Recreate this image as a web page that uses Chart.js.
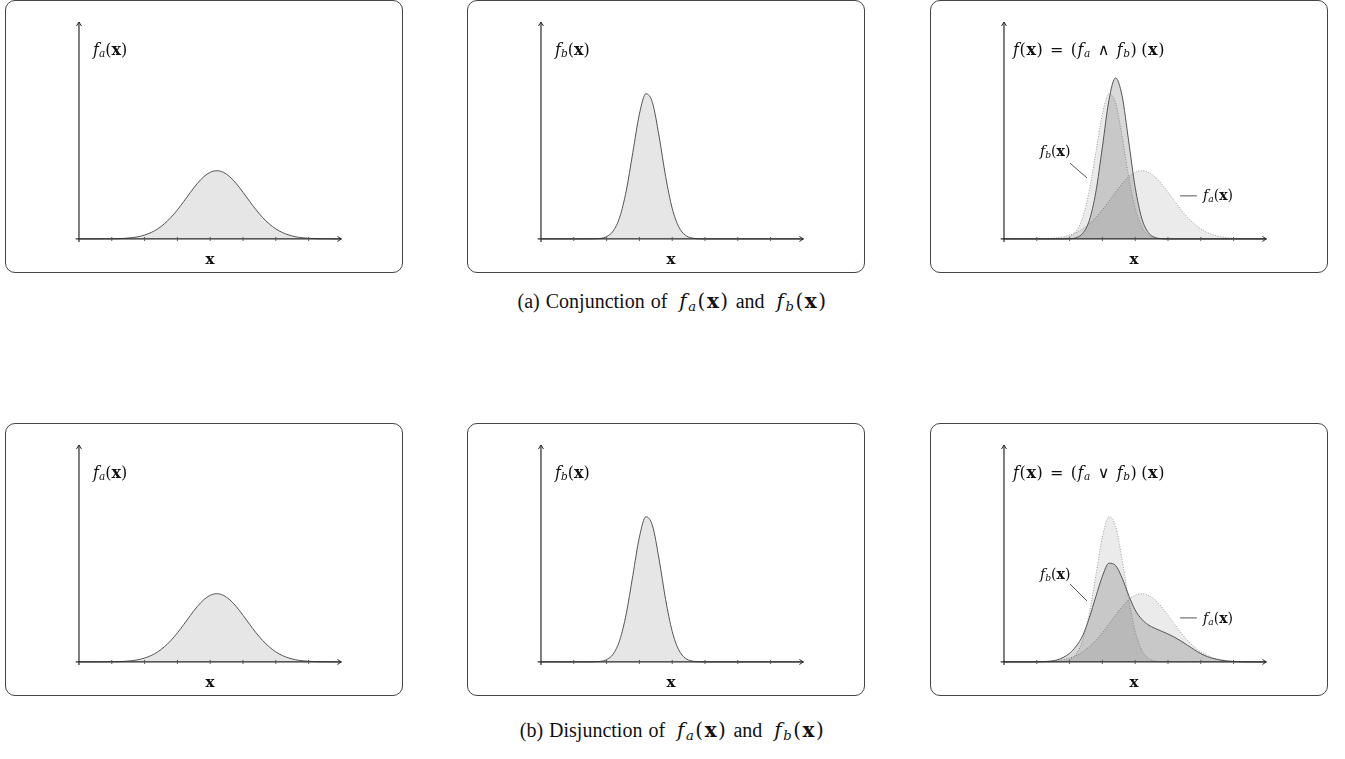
<!DOCTYPE html>
<html>
<head>
<meta charset="utf-8">
<script src="https://cdn.jsdelivr.net/npm/chart.js@4.4.0/dist/chart.umd.min.js"></script>
<style>
  body { margin: 0; width: 1345px; height: 759px; background: #fff; position: relative; overflow: hidden;
         font-family: "Liberation Serif", "DejaVu Serif", serif; color: #111; }
  .box { position: absolute; width: 398px; height: 273px; border: 1px solid #444; border-radius: 10px; box-sizing: border-box; }
  .box canvas { position: absolute; left: -1px; top: -1px; }
  .m { font-family: "DejaVu Serif", serif; }
  .lbl { position: absolute; font-size: 16px; line-height: 1; white-space: nowrap; }
  .lbl.small { font-size: 14px; }
  .wide { letter-spacing: 0.6px; word-spacing: 1px; }
  sub { font-size: 0.66em; vertical-align: -0.22em; line-height: 0; }
  .xl { position: absolute; width: 40px; text-align: center; font-weight: bold; font-size: 15px; line-height: 1; }
  .cap { position: absolute; left: 0; width: 1345px; text-align: center; font-size: 20px; line-height: 1; word-spacing: 1px; }
  .cap .m { font-size: 20px; letter-spacing: 1.5px; }
</style>
</head>
<body>

<div class="box" style="left:5px;top:0px"><canvas id="topA" width="398" height="273"></canvas></div>
<div class="box" style="left:467px;top:0px"><canvas id="topB" width="398" height="273"></canvas></div>
<div class="box" style="left:930px;top:0px"><canvas id="topAnd" width="398" height="273"></canvas></div>
<div class="box" style="left:5px;top:423px"><canvas id="botA" width="398" height="273"></canvas></div>
<div class="box" style="left:467px;top:423px"><canvas id="botB" width="398" height="273"></canvas></div>
<div class="box" style="left:930px;top:423px"><canvas id="botOr" width="398" height="273"></canvas></div>

<!-- row (a) -->
<div class="lbl m" style="left:93px;top:42px"><i>f</i><sub><i>a</i></sub>(<b>x</b>)</div>
<div class="lbl m" style="left:555px;top:42px"><i>f</i><sub><i>b</i></sub>(<b>x</b>)</div>
<div class="lbl m wide" style="left:1013px;top:42px"><i>f</i>(<b>x</b>) = (<i>f</i><sub><i>a</i></sub> ∧ <i>f</i><sub><i>b</i></sub>)&thinsp;(<b>x</b>)</div>
<div class="lbl m small" style="left:1040px;top:144px"><i>f</i><sub><i>b</i></sub>(<b>x</b>)</div>
<div class="lbl m small" style="left:1203px;top:188px"><i>f</i><sub><i>a</i></sub>(<b>x</b>)</div>
<div class="xl m" style="left:190px;top:252px">x</div>
<div class="xl m" style="left:651px;top:252px">x</div>
<div class="xl m" style="left:1114px;top:252px">x</div>
<div class="cap" style="top:291px">(a) Conjunction of&nbsp; <span class="m"><i>f</i><sub><i>a</i></sub>(<b>x</b>)</span>&nbsp;and&nbsp; <span class="m"><i>f</i><sub><i>b</i></sub>(<b>x</b>)</span></div>

<!-- row (b) -->
<div class="lbl m" style="left:93px;top:465px"><i>f</i><sub><i>a</i></sub>(<b>x</b>)</div>
<div class="lbl m" style="left:555px;top:465px"><i>f</i><sub><i>b</i></sub>(<b>x</b>)</div>
<div class="lbl m wide" style="left:1013px;top:465px"><i>f</i>(<b>x</b>) = (<i>f</i><sub><i>a</i></sub> ∨ <i>f</i><sub><i>b</i></sub>)&thinsp;(<b>x</b>)</div>
<div class="lbl m small" style="left:1040px;top:567px"><i>f</i><sub><i>b</i></sub>(<b>x</b>)</div>
<div class="lbl m small" style="left:1203px;top:611px"><i>f</i><sub><i>a</i></sub>(<b>x</b>)</div>
<div class="xl m" style="left:190px;top:675px">x</div>
<div class="xl m" style="left:651px;top:675px">x</div>
<div class="xl m" style="left:1114px;top:675px">x</div>
<div class="cap" style="top:720px">(b) Disjunction of&nbsp; <span class="m"><i>f</i><sub><i>a</i></sub>(<b>x</b>)</span>&nbsp;and&nbsp; <span class="m"><i>f</i><sub><i>b</i></sub>(<b>x</b>)</span></div>

<script>
// sample positions along x
const xValues = [0, 0.2, 0.4, 0.6, 0.8, 1, 1.2, 1.4, 1.6, 1.8, 2, 2.2, 2.4, 2.6, 2.8, 3, 3.2, 3.4, 3.6, 3.8,
                 4, 4.2, 4.4, 4.6, 4.8, 5, 5.2, 5.4, 5.6, 5.8, 6, 6.2, 6.4, 6.6, 6.8, 7, 7.2, 7.4, 7.6, 7.8, 8];

// f_a(x): wide bump around 4.2
const densityA = [0.000, 0.000, 0.000, 0.000, 0.001, 0.001, 0.002, 0.004, 0.008, 0.014, 0.025, 0.041, 0.064, 0.096,
                  0.136, 0.185, 0.240, 0.297, 0.351, 0.395, 0.424, 0.434, 0.424, 0.395, 0.351, 0.297, 0.240, 0.185,
                  0.136, 0.096, 0.064, 0.041, 0.025, 0.014, 0.008, 0.004, 0.002, 0.001, 0.001, 0.000, 0.000];

// f_b(x): narrow peak around 3.24
const densityB = [0, 0, 0, 0, 0, 0, 0, 0.000, 0.001, 0.003, 0.015, 0.050, 0.138, 0.307, 0.550, 0.794, 0.924, 0.866,
                  0.654, 0.397, 0.195, 0.077, 0.024, 0.006, 0.001, 0.000, 0, 0, 0, 0, 0, 0, 0, 0, 0, 0, 0, 0, 0, 0, 0];

// (f_a AND f_b)(x)
const conjunction = [0, 0, 0, 0, 0, 0, 0, 0, 0, 0.000, 0.001, 0.008, 0.035, 0.117, 0.298, 0.585, 0.883, 1.024, 0.911,
                     0.624, 0.328, 0.132, 0.041, 0.010, 0.002, 0.000, 0, 0, 0, 0, 0, 0, 0, 0, 0, 0, 0, 0, 0, 0, 0];

// (f_a OR f_b)(x)
const disjunction = [0.000, 0.000, 0.000, 0.000, 0.000, 0.001, 0.002, 0.005, 0.012, 0.028, 0.055, 0.100, 0.168, 0.280,
                     0.415, 0.545, 0.628, 0.614, 0.535, 0.425, 0.330, 0.272, 0.236, 0.214, 0.196, 0.178, 0.157, 0.133,
                     0.105, 0.078, 0.053, 0.034, 0.021, 0.012, 0.006, 0.003, 0.001, 0.000, 0.000, 0.000, 0.000];

const xTicks = [1, 2, 3, 4, 5, 6, 7];
const xRange = [-0.1, 8];
const yRange = [-0.02, 1.38];

function points(values) {
    return xValues.map((x, i) => ({ x: x, y: values[i] }));
}

const arrowAxes = {
    id: 'arrowAxes',
    afterDatasetsDraw(chart, args, opts) {
        const { ctx, scales: { x, y } } = chart;
        const x0 = x.getPixelForValue(0), y0 = y.getPixelForValue(0);
        const xl = x.getPixelForValue(xRange[0]), xr = x.getPixelForValue(xRange[1]);
        const yb = y.getPixelForValue(yRange[0]), yt = y.getPixelForValue(yRange[1]);
        ctx.save();
        ctx.strokeStyle = '#2a2a2a';
        ctx.lineWidth = 1.2;
        ctx.beginPath();
        ctx.moveTo(xl, y0); ctx.lineTo(xr, y0);
        ctx.moveTo(x0, yb); ctx.lineTo(x0, yt);
        ctx.stroke();

        ctx.lineWidth = 1;
        ctx.strokeStyle = '#555';
        ctx.beginPath();
        xTicks.forEach(t => {
            const px = x.getPixelForValue(t);
            ctx.moveTo(px, y0 - 2); ctx.lineTo(px, y0 + 2);
        });
        ctx.stroke();

        ctx.strokeStyle = '#2a2a2a';
        ctx.beginPath();
        ctx.moveTo(xr - 4, y0 - 2.5); ctx.lineTo(xr, y0); ctx.lineTo(xr - 4, y0 + 2.5);
        ctx.moveTo(x0 - 2.5, yt + 4); ctx.lineTo(x0, yt); ctx.lineTo(x0 + 2.5, yt + 4);
        ctx.stroke();

        // leader lines for the curve labels
        ctx.strokeStyle = '#555';
        (opts.leaders || []).forEach(([ax, ay, bx, by]) => {
            ctx.beginPath();
            ctx.moveTo(x.getPixelForValue(ax), y.getPixelForValue(ay));
            ctx.lineTo(x.getPixelForValue(bx), y.getPixelForValue(by));
            ctx.stroke();
        });
        ctx.restore();
    }
};

function singleCurve(values) {
    return [{
        data: points(values),
        borderColor: '#555',
        borderWidth: 1,
        backgroundColor: '#e6e6e6',
        fill: 'origin'
    }];
}

function combined(values) {
    const dotted = {
        borderColor: '#9a9a9a',
        borderWidth: 1,
        borderDash: [1, 1.6],
        backgroundColor: 'rgba(0,0,0,0.08)',
        fill: 'origin'
    };
    return [
        { data: points(values), borderColor: '#555', borderWidth: 1, backgroundColor: 'rgba(0,0,0,0.15)', fill: 'origin' },
        Object.assign({ data: points(densityB) }, dotted),
        Object.assign({ data: points(densityA) }, dotted)
    ];
}

function makePanel(id, datasets, leaders) {
    const ctx = document.getElementById(id).getContext('2d');
    return new Chart(ctx, {
        type: 'line',
        data: { datasets: datasets },
        options: {
            responsive: false,
            animation: false,
            devicePixelRatio: 1,
            layout: { padding: { left: 70.7, right: 61.6, top: 22, bottom: 30.9 } },
            elements: {
                point: { radius: 0 },
                line: { cubicInterpolationMode: 'monotone' }
            },
            scales: {
                x: { type: 'linear', min: xRange[0], max: xRange[1], display: false },
                y: { type: 'linear', min: yRange[0], max: yRange[1], display: false }
            },
            plugins: {
                legend: { display: false },
                tooltip: { enabled: false },
                arrowAxes: { leaders: leaders || [] }
            }
        },
        plugins: [arrowAxes]
    });
}

makePanel('topA', singleCurve(densityA));
makePanel('topB', singleCurve(densityB));
makePanel('topAnd', combined(conjunction), [[2.01, 0.483, 2.53, 0.388], [5.37, 0.274, 5.88, 0.274]]);
makePanel('botA', singleCurve(densityA));
makePanel('botB', singleCurve(densityB));
makePanel('botOr', combined(disjunction), [[2.01, 0.496, 2.53, 0.388], [5.37, 0.28, 5.88, 0.28]]);
</script>
</body>
</html>
